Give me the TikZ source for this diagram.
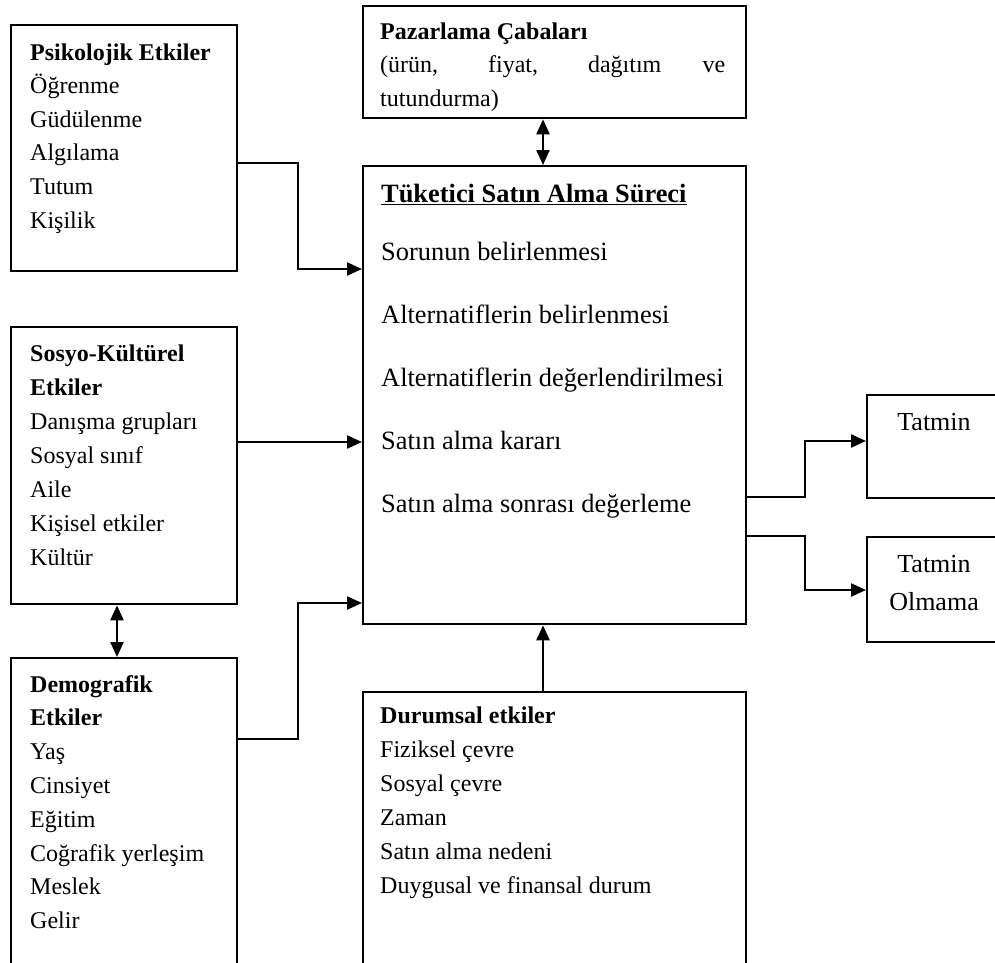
\documentclass[tikz,border=0pt]{standalone}
\usepackage{fontspec}
\setmainfont{Liberation Serif}
\usetikzlibrary{arrows.meta}
\newcommand\boxlines[4]{%
  \foreach \t [count=\i from 0] in {#4} {\node[#1] at (#2, {#3+\i*\linegap}) {\t};}}
\begin{document}
\begin{tikzpicture}[x=1pt,y=-1pt,
  box/.style={draw,line width=2.3pt,inner sep=0pt,anchor=north west},
  conn/.style={line width=2.3pt},
  arr/.style={conn,-{Triangle[length=15pt,width=13pt]}},
  darr/.style={conn,{Triangle[length=15pt,width=13pt]}-{Triangle[length=15pt,width=13pt]}},
  ln/.style={anchor=base west,inner sep=0pt,font=\fontsize{24}{28}\selectfont},
  mln/.style={anchor=base west,inner sep=0pt,font=\fontsize{26.4}{30}\selectfont},
  rln/.style={anchor=base,inner sep=0pt,font=\fontsize{26}{30}\selectfont}]
\useasboundingbox[fill=white] (0,0) rectangle (995,962);

% boxes
\node[box,minimum width=226pt,minimum height=246pt] (psi) at (10,24) {};
\node[box,minimum width=226pt,minimum height=277pt] (sos) at (10,326) {};
\node[box,minimum width=226pt,minimum height=330pt] (dem) at (10,657) {};
\node[box,minimum width=383pt,minimum height=112pt] (paz) at (362,5) {};
\node[box,minimum width=383pt,minimum height=458pt] (main) at (362,165) {};
\node[box,minimum width=383pt,minimum height=300pt] (dur) at (362,691) {};
\node[box,minimum width=140pt,minimum height=103pt] (tat) at (866,394) {};
\node[box,minimum width=140pt,minimum height=105pt] (olm) at (866,536) {};

% texts
\def\linegap{33.6}
\boxlines{ln}{30}{60}{{\textbf{Psikolojik Etkiler}},Öğrenme,Güdülenme,Algılama,Tutum,Kişilik}
\def\linegap{34}
\boxlines{ln}{30}{361}{{\textbf{Sosyo-Kültürel}},{\textbf{Etkiler}},Danışma grupları,Sosyal sınıf,Aile,Kişisel etkiler,Kültür}
\def\linegap{33.8}
\boxlines{ln}{30}{692}{{\textbf{Demografik}},{\textbf{Etkiler}},Yaş,Cinsiyet,Eğitim,Coğrafik yerleşim,Meslek,Gelir}
\def\linegap{34}
\boxlines{ln}{380}{723}{{\textbf{Durumsal etkiler}},Fiziksel çevre,Sosyal çevre,Zaman,Satın alma nedeni,Duygusal ve finansal durum}
\node[mln] (title) at (381,202) {\underline{\textbf{Tüketici Satın Alma Süreci}}};
\def\linegap{63.2}
\boxlines{mln}{381}{260}{Sorunun belirlenmesi,Alternatiflerin belirlenmesi,Alternatiflerin değerlendirilmesi,Satın alma kararı,Satın alma sonrası değerleme}
\node[ln] (paz1) at (380,39) {\textbf{Pazarlama Çabaları}};
\node[ln] (paz2) at (380,72) {\makebox[345pt][s]{(ürün, fiyat, dağıtım ve}};
\node[ln] (paz3) at (380,106) {tutundurma)};
\node[rln] (tat1) at (934,430) {Tatmin};
\node[rln] (olm1) at (934,572) {Tatmin};
\node[rln] (olm2) at (934,610) {Olmama};

% connectors
\draw[arr] (psi.east |- 0,163) -- (298,163) |- (main.west |- 0,269);
\draw[arr] (sos.east |- 0,442) -- (main.west |- 0,442);
\draw[arr] (dem.east |- 0,739) -- (298,739) |- (main.west |- 0,603);
\draw[darr] (sos.south -| 117,0) -- (dem.north -| 117,0);
\draw[darr] (paz.south -| 543,0) -- (main.north -| 543,0);
\draw[arr] (dur.north -| 543,0) -- (main.south -| 543,0);
\draw[arr] (main.east |- 0,497) -- (805,497) |- (tat.west |- 0,441);
\draw[arr] (main.east |- 0,536) -- (805,536) |- (olm.west |- 0,590);
\end{tikzpicture}
\end{document}
